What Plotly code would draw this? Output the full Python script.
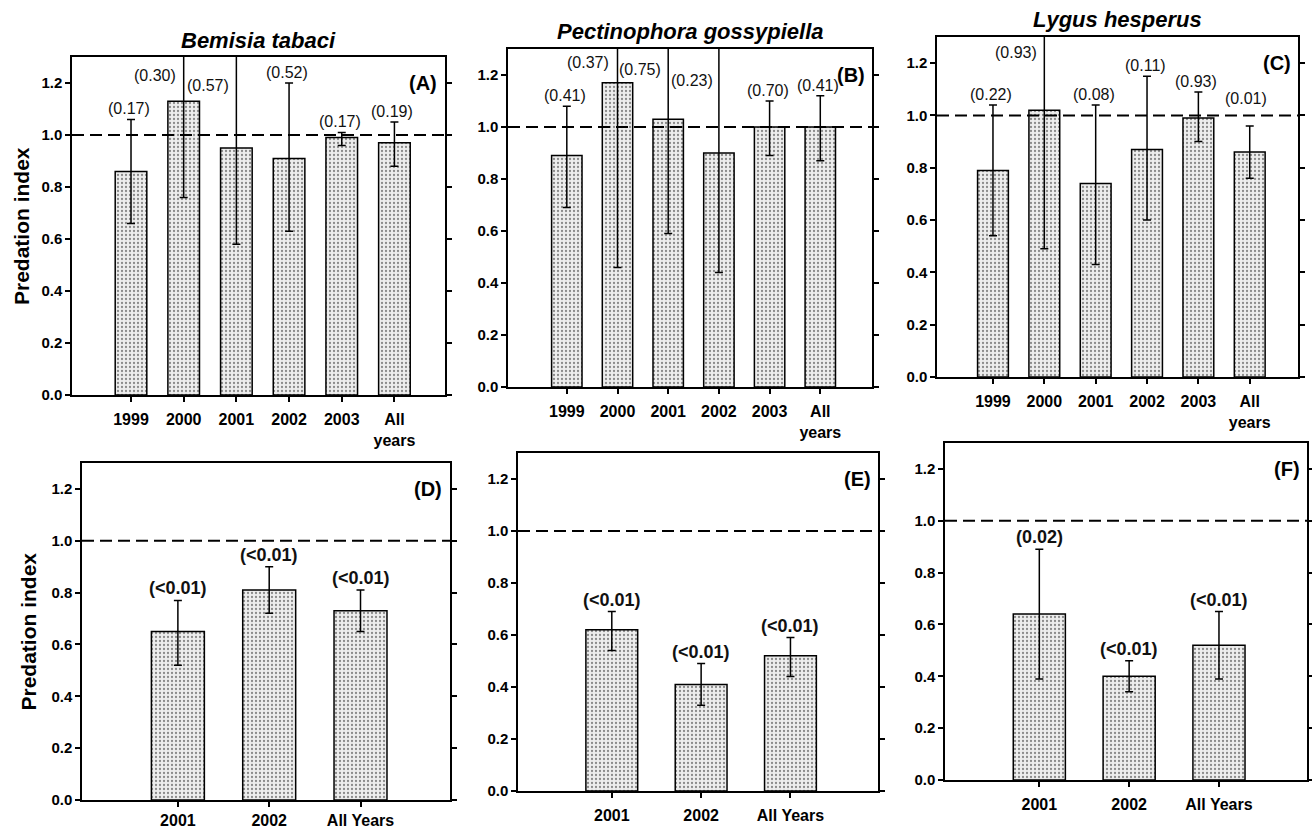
import plotly.graph_objects as go

# ---------------- data ----------------
top_cats = ["1999", "2000", "2001", "2002", "2003", "All<br>years"]
bottom_cats = ["2001", "2002", "All Years"]

# Panel A  Bemisia tabaci  (upper limits above 1.3 run off the top of the frame)
a_mean = [0.86, 1.13, 0.95, 0.91, 0.99, 0.97]
a_high = [1.06, 1.45, 1.40, 1.20, 1.01, 1.05]
a_low = [0.66, 0.76, 0.58, 0.63, 0.96, 0.88]
a_p = ["(0.17)", "(0.30)", "(0.57)", "(0.52)", "(0.17)", "(0.19)"]

# Panel B  Pectinophora gossypiella
b_mean = [0.89, 1.17, 1.03, 0.90, 1.00, 1.00]
b_high = [1.08, 1.40, 1.40, 1.40, 1.10, 1.12]
b_low = [0.69, 0.46, 0.59, 0.44, 0.89, 0.87]
b_p = ["(0.41)", "(0.37)", "(0.75)", "(0.23)", "(0.70)", "(0.41)"]

# Panel C  Lygus hesperus
c_mean = [0.79, 1.02, 0.74, 0.87, 0.99, 0.86]
c_high = [1.04, 1.40, 1.04, 1.15, 1.09, 0.96]
c_low = [0.54, 0.49, 0.43, 0.60, 0.90, 0.76]
c_p = ["(0.22)", "(0.93)", "(0.08)", "(0.11)", "(0.93)", "(0.01)"]

# Panel D
d_mean = [0.65, 0.81, 0.73]
d_high = [0.77, 0.90, 0.81]
d_low = [0.52, 0.72, 0.65]
d_p = ["(<0.01)", "(<0.01)", "(<0.01)"]

# Panel E
e_mean = [0.62, 0.41, 0.52]
e_high = [0.69, 0.49, 0.59]
e_low = [0.54, 0.33, 0.44]
e_p = ["(<0.01)", "(<0.01)", "(<0.01)"]

# Panel F
f_mean = [0.64, 0.40, 0.52]
f_high = [0.89, 0.46, 0.65]
f_low = [0.39, 0.34, 0.39]
f_p = ["(0.02)", "(<0.01)", "(<0.01)"]

titles = ["Bemisia tabaci", "Pectinophora gossypiella", "Lygus hesperus"]
panel_tags = ["(A)", "(B)", "(C)", "(D)", "(E)", "(F)"]
REFERENCE = 1.0
Y_MAX = 1.3
y_ticks = [0.0, 0.2, 0.4, 0.6, 0.8, 1.0, 1.2]

# ---------------- layout helpers ----------------
W, H = 1312, 830
FONT = "Arial, Liberation Sans, sans-serif"

# frames in pixel coords: left, right, top, bottom
frames = [
    (72, 445, 57, 395),
    (508, 872, 49, 387),
    (937, 1298, 37, 377),
    (82, 450, 463, 800),
    (518, 878, 453, 791),
    (945, 1307, 443, 780),
]
title_y_px = [41, 31, 19]
x_label_standoff = [4, 4, 4, 0, 4, 4]

panels = [
    (top_cats, a_mean, a_high, a_low, a_p),
    (top_cats, b_mean, b_high, b_low, b_p),
    (top_cats, c_mean, c_high, c_low, c_p),
    (bottom_cats, d_mean, d_high, d_low, d_p),
    (bottom_cats, e_mean, e_high, e_low, e_p),
    (bottom_cats, f_mean, f_high, f_low, f_p),
]

# label placement overrides (index -> (y, xshift))
label_over = [
    {1: (1.23, -29), 2: (1.19, -28)},
    {1: (1.25, -30), 2: (1.22, -28), 3: (1.18, -27)},
    {1: (1.24, -28), 5: (1.065, -4)},
    {}, {}, {},
]
x_ranges = [[-1.12, 5.96], [-1.16, 6.02], [-1.09, 5.94],
            [-1.05, 2.98], [-1.05, 2.98], [-1.05, 2.98]]

fig = go.Figure()
annotations = []
shapes = []

for i, (cats, mean, high, low, pv) in enumerate(panels):
    n = i + 1
    xa = "x" if n == 1 else f"x{n}"
    ya = "y" if n == 1 else f"y{n}"
    up = [h - mm for h, mm in zip(high, mean)]
    dn = [mm - l for mm, l in zip(mean, low)]
    top = i < 3
    fig.add_trace(go.Bar(
        x=cats, y=mean, xaxis=xa, yaxis=ya,
        width=0.6 if top else 0.58,
        marker=dict(
            color="#e4e4e4",
            line=dict(color="black", width=1.5),
            pattern=dict(shape=".", fgcolor="#8a8a8a", bgcolor="#ededed",
                         size=4, solidity=0.25, fillmode="replace"),
        ),
        error_y=dict(type="data", symmetric=False, array=up, arrayminus=dn,
                     color="black", thickness=1.5, width=4),
        showlegend=False, hoverinfo="skip",
    ))

    l, r, t, b = frames[i]
    xdom = [l / W, r / W]
    ydom = [1 - b / H, 1 - t / H]

    fig.layout[("xaxis" if n == 1 else f"xaxis{n}")] = dict(
        domain=xdom, anchor=ya, type="category", range=x_ranges[i],
        showline=True, mirror=True, linecolor="black", linewidth=1.5,
        ticks="outside", ticklen=5, tickwidth=1.5, tickcolor="black",
        ticklabelstandoff=x_label_standoff[i], automargin=False,
        tickfont=dict(family=FONT, size=16, color="black", weight="bold"),
        showgrid=False, zeroline=False, fixedrange=True,
    )
    fig.layout[("yaxis" if n == 1 else f"yaxis{n}")] = dict(
        domain=ydom, anchor=xa, range=[0, Y_MAX],
        tickvals=y_ticks, ticktext=[f"{v:.1f}" for v in y_ticks],
        showline=True, mirror="ticks", linecolor="black", linewidth=1.5,
        ticks="outside", ticklen=5, tickwidth=1.5, tickcolor="black",
        automargin=False,
        tickfont=dict(family=FONT, size=15, color="black", weight="bold"),
        showgrid=False, zeroline=False, fixedrange=True,
    )

    # reference line at 1.0
    shapes.append(dict(type="line", xref=f"{xa} domain", yref=ya,
                       x0=0, x1=1, y0=REFERENCE, y1=REFERENCE,
                       line=dict(color="black", width=2, dash="12px,6px")))

    # p-value labels
    for j, txt in enumerate(pv):
        if j in label_over[i]:
            yv, xs = label_over[i][j]
            annotations.append(dict(x=j, y=yv, xref=xa, yref=ya, text=txt,
                                    showarrow=False, xshift=xs, yanchor="middle",
                                    font=dict(family=FONT, size=16, color="#111")))
        else:
            annotations.append(dict(
                x=j, y=high[j], xref=xa, yref=ya, text=txt, showarrow=False,
                yanchor="bottom", yshift=0, xshift=-2 if top else 0,
                font=dict(family=FONT, size=16 if top else 18, color="#111",
                          weight="normal" if top else "bold")))

    # panel tag
    annotations.append(dict(x=0.985, y=1.2, xref=f"{xa} domain", yref=ya,
                            text=panel_tags[i], showarrow=False,
                            xanchor="right", yanchor="middle",
                            font=dict(family=FONT, size=20, color="black",
                                      weight="bold")))

    # species titles
    if top:
        annotations.append(dict(
            x=(l + r) / 2 / W, y=1 - title_y_px[i] / H, xref="paper", yref="paper",
            text=f"<b><i>{titles[i]}</i></b>", showarrow=False,
            xanchor="center", yanchor="middle",
            font=dict(family=FONT, size=22, color="black")))

# y axis titles
for yc, xc in [((57 + 395) / 2, 22), ((463 + 800) / 2, 28)]:
    annotations.append(dict(x=xc / W, y=1 - yc / H, xref="paper", yref="paper",
                            text="Predation index", textangle=-90,
                            showarrow=False, xanchor="center", yanchor="middle",
                            font=dict(family=FONT, size=21, color="black",
                                      weight="bold")))

fig.update_layout(
    width=W, height=H,
    margin=dict(l=0, r=0, t=0, b=0, autoexpand=False),
    paper_bgcolor="white", plot_bgcolor="white",
    annotations=annotations, shapes=shapes,
)

fig.write_html("out.html",
               post_script="document.body.style.margin='0';"
                           "document.body.style.overflow='hidden';",
               config={"displayModeBar": False})
